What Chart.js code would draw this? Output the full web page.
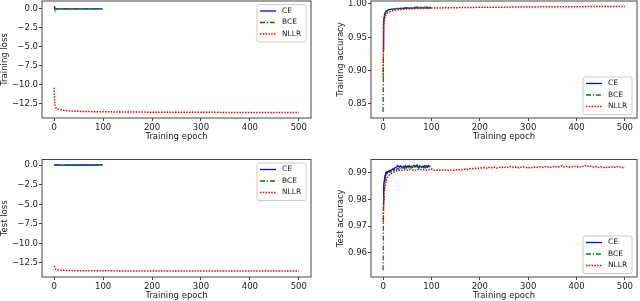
<!DOCTYPE html>
<html>
<head>
<meta charset="utf-8">
<script src="https://cdn.jsdelivr.net/npm/chart.js@4.4.0/dist/chart.umd.min.js"></script>
<style>
html, body { margin: 0; padding: 0; background: #fff; }
#wrap { position: relative; width: 640px; height: 301px; overflow: hidden; }
canvas { position: absolute; }
</style>
</head>
<body>
<div id="wrap">
<canvas id="c1" width="320" height="150" style="left:0;top:0"></canvas>
<canvas id="c2" width="320" height="150" style="left:320px;top:0"></canvas>
<canvas id="c3" width="320" height="151" style="left:0;top:150px"></canvas>
<canvas id="c4" width="320" height="151" style="left:320px;top:150px"></canvas>
</div>
<script>
// ---- data ----
var seriesNames = ['CE', 'BCE', 'NLLR'];
var xTicks = [0, 100, 200, 300, 400, 500];
var yTicksLoss = [0, -2.5, -5, -7.5, -10, -12.5];
var yTicksTrainAcc = [0.85, 0.90, 0.95, 1.00];
var yTicksTestAcc = [0.96, 0.97, 0.98, 0.99];

// epochs for the smooth curves
var epochsCE = [0, 1, 2, 3, 4, 5, 6, 8, 10, 13, 16, 20, 25, 30, 40, 50, 60, 70, 80, 90, 99];
var epochsNLLR = [0, 1, 2, 3, 4, 5, 6, 8, 10, 13, 16, 20, 25, 30, 40, 50, 60, 80, 100, 150, 200, 250, 300, 350, 400, 450, 500];

var trainLossCE = [0.35, 0.09, 0.06, 0.045, 0.037, 0.032, 0.028, 0.023, 0.02, 0.017, 0.015, 0.012, 0.01, 0.009, 0.007, 0.006, 0.005, 0.004, 0.004, 0.003, 0.003];
var trainLossBCE = [0.15, 0.03, 0.02, 0.015, 0.012, 0.01, 0.009, 0.008, 0.007, 0.006, 0.005, 0.004, 0.004, 0.003, 0.003, 0.002, 0.002, 0.002, 0.002, 0.001, 0.001];
var trainLossNLLR = [-10.4, -12.6, -12.9, -13.0, -13.08, -13.13, -13.17, -13.23, -13.27, -13.31, -13.35, -13.39, -13.42, -13.45, -13.49, -13.52, -13.54, -13.56, -13.58, -13.61, -13.63, -13.64, -13.65, -13.66, -13.66, -13.67, -13.67];

var testLossCE = [0.06, 0.05, 0.045, 0.04, 0.038, 0.036, 0.035, 0.034, 0.033, 0.032, 0.032, 0.032, 0.033, 0.033, 0.034, 0.035, 0.036, 0.037, 0.038, 0.039, 0.04];
var testLossBCE = [0.02, 0.015, 0.013, 0.012, 0.011, 0.01, 0.01, 0.009, 0.009, 0.009, 0.009, 0.009, 0.01, 0.01, 0.01, 0.011, 0.011, 0.012, 0.012, 0.013, 0.013];
var testLossNLLR = [-12.85, -13.1, -13.2, -13.27, -13.31, -13.34, -13.36, -13.39, -13.41, -13.43, -13.44, -13.45, -13.46, -13.47, -13.48, -13.49, -13.5, -13.5, -13.51, -13.52, -13.52, -13.53, -13.53, -13.53, -13.54, -13.54, -13.54];

var trainAccCE = [0.930, 0.972, 0.980, 0.984, 0.9865, 0.988, 0.989, 0.990, 0.9908, 0.9915, 0.992, 0.9924, 0.9928, 0.993, 0.9934, 0.9937, 0.9939, 0.9941, 0.9942, 0.9943, 0.9944];
var trainAccBCE = [0.838, 0.968, 0.978, 0.983, 0.9855, 0.987, 0.988, 0.9893, 0.990, 0.991, 0.9918, 0.9925, 0.993, 0.9934, 0.9940, 0.9945, 0.9948, 0.9951, 0.9953, 0.9954, 0.9955];
var trainAccNLLR = [0.890, 0.962, 0.972, 0.977, 0.980, 0.982, 0.9835, 0.9855, 0.987, 0.988, 0.989, 0.990, 0.9908, 0.9914, 0.9921, 0.9926, 0.993, 0.9935, 0.9939, 0.9945, 0.9950, 0.9953, 0.9956, 0.9958, 0.9960, 0.9962, 0.9963];

// epochs for the noisy test accuracy curves
var epochsTestCE = [0, 1, 2, 3, 4, 5, 6, 7, 8, 10, 12, 14, 16, 18, 20, 22, 24, 26, 28, 30, 32, 34, 36, 38, 40, 42, 44, 46,
  48, 50, 52, 54, 56, 58, 60, 62, 64, 66, 68, 70, 72, 74, 76, 78, 80, 82, 84, 86, 88, 90, 92, 94, 96, 98];
var epochsTestNLLR = [0, 1, 2, 3, 4, 5, 6, 8, 10, 12, 15, 18, 21, 24, 27, 30,
  35, 40, 45, 50, 55, 60, 65, 70, 75, 80, 85, 90, 95, 100,
  105, 110, 115, 120, 125, 130, 135, 140, 145, 150, 155, 160, 165, 170, 175, 180, 185, 190, 195, 200,
  205, 210, 215, 220, 225, 230, 235, 240, 245, 250, 255, 260, 265, 270, 275, 280, 285, 290, 295, 300,
  305, 310, 315, 320, 325, 330, 335, 340, 345, 350, 355, 360, 365, 370, 375, 380, 385, 390, 395, 400,
  405, 410, 415, 420, 425, 430, 435, 440, 445, 450, 455, 460, 465, 470, 475, 480, 485, 490, 495, 500];

var testAccCE = [0.9780, 0.9845, 0.9868, 0.9880, 0.9890, 0.9895, 0.9900, 0.9898,
  0.9905, 0.9903, 0.9908, 0.9910, 0.9907, 0.9912, 0.9915, 0.9911, 0.9918, 0.9920,
  0.9922, 0.9928, 0.9925, 0.9921, 0.9926, 0.9923, 0.9919, 0.9924, 0.9922, 0.9926,
  0.9920, 0.9925, 0.9923, 0.9927, 0.9922, 0.9924, 0.9921, 0.9926, 0.9928, 0.9923,
  0.9927, 0.9929, 0.9924, 0.9921, 0.9926, 0.9923, 0.9920, 0.9925, 0.9922, 0.9927,
  0.9924, 0.9926, 0.9921, 0.9927, 0.9925, 0.9923];
var testAccBCE = [0.9535, 0.9780, 0.9830, 0.9855, 0.9870, 0.9880, 0.9888, 0.9893,
  0.9897, 0.9900, 0.9902, 0.9905, 0.9903, 0.9908, 0.9910, 0.9907, 0.9912, 0.9910,
  0.9914, 0.9917, 0.9913, 0.9918, 0.9915, 0.9919, 0.9916, 0.9920, 0.9917, 0.9921,
  0.9918, 0.9922, 0.9919, 0.9916, 0.9921, 0.9918, 0.9923, 0.9920, 0.9917, 0.9922,
  0.9919, 0.9924, 0.9920, 0.9917, 0.9922, 0.9919, 0.9923, 0.9920, 0.9918, 0.9922,
  0.9919, 0.9923, 0.9920, 0.9924, 0.9921, 0.9919];
var testAccNLLR = [0.9715, 0.9780, 0.9815, 0.9838, 0.9852, 0.9862, 0.9870, 0.9880, 0.9886, 0.9891, 0.9895, 0.9899, 0.9902, 0.9904, 0.9907, 0.9908,
  0.9910, 0.9909, 0.9912, 0.9910, 0.9913, 0.9911, 0.9909, 0.9912, 0.9914, 0.9911, 0.9913, 0.9910, 0.9912, 0.9914,
  0.9910, 0.9911, 0.9909, 0.9910, 0.9912, 0.9910, 0.9909, 0.9911, 0.9910, 0.9912, 0.9911, 0.9913, 0.9912, 0.9914, 0.9913, 0.9916, 0.9915, 0.9917, 0.9916, 0.9919,
  0.9918, 0.9920, 0.9917, 0.9921, 0.9919, 0.9922, 0.9918, 0.9921, 0.9920, 0.9923, 0.9919, 0.9922, 0.9924, 0.9920, 0.9922, 0.9919, 0.9921, 0.9923, 0.9920, 0.9918,
  0.9921, 0.9919, 0.9922, 0.9920, 0.9923, 0.9921, 0.9924, 0.9922, 0.9920, 0.9923, 0.9925, 0.9921, 0.9923, 0.9926, 0.9922, 0.9924, 0.9921, 0.9923, 0.9925, 0.9922,
  0.9924, 0.9921, 0.9926, 0.9928, 0.9923, 0.9925, 0.9922, 0.9924, 0.9920, 0.9923, 0.9921, 0.9918, 0.9922, 0.9920, 0.9923, 0.9921, 0.9924, 0.9922, 0.9920, 0.9921];

// ---- styling ----
var font = { family: "'DejaVu Sans', sans-serif", size: 8.5 };
var legendFont = "7.5px 'DejaVu Sans', sans-serif";
var textColor = '#222';
var axisColor = '#444';
var styles = [
  { color: '#0000ff', dash: [], width: 1.3 },
  { color: '#008000', dash: [5, 1.8, 1.3, 1.8], width: 1.3 },
  { color: '#ff0000', dash: [1.5, 1.3], width: 1.5 }
];

function points(xs, ys) {
  return xs.map(function (x, i) { return { x: x, y: ys[i] }; });
}

function fmtLoss(v) { return v.toFixed(1).replace('-', '\u2212'); }
function fmtAcc(v) { return v.toFixed(2); }

// spines drawn on top of the lines
var frameBox = {
  id: 'frameBox',
  afterDatasetsDraw: function (chart) {
    var a = chart.chartArea, ctx = chart.ctx;
    ctx.save();
    ctx.strokeStyle = axisColor;
    ctx.lineWidth = 1;
    ctx.strokeRect(a.left, a.top, a.right - a.left, a.bottom - a.top);
    ctx.restore();
  }
};

// matplotlib-like legend inside the axes
var legendBox = {
  id: 'legendBox',
  afterDraw: function (chart, args, opts) {
    var a = chart.chartArea, ctx = chart.ctx;
    var w = 49, h = 37.5;
    var x = a.right - 5 - w;
    var y = opts.corner === 'top' ? a.top + 3.5 : a.bottom - 3.5 - h;
    ctx.save();
    ctx.beginPath();
    ctx.roundRect(x, y, w, h, 2);
    ctx.fillStyle = 'rgba(255,255,255,0.8)';
    ctx.fill();
    ctx.strokeStyle = '#cccccc';
    ctx.lineWidth = 1;
    ctx.stroke();
    var rows = [6.5, 18, 29.5];
    chart.data.datasets.forEach(function (ds, i) {
      var st = styles[i];
      var ry = y + rows[i];
      ctx.beginPath();
      ctx.setLineDash(st.dash);
      ctx.strokeStyle = st.color;
      ctx.lineWidth = st.width;
      ctx.moveTo(x + 3, ry);
      ctx.lineTo(x + 19, ry);
      ctx.stroke();
      ctx.setLineDash([]);
      ctx.fillStyle = textColor;
      ctx.font = legendFont;
      ctx.textBaseline = 'middle';
      ctx.textAlign = 'left';
      ctx.fillText(ds.label, x + 25, ry);
    });
    ctx.restore();
  }
};

function makeChart(id, p) {
  var cv = document.getElementById(id);
  var H = cv.height, W = cv.width;
  var datasets = p.series.map(function (s, i) {
    return {
      label: seriesNames[i],
      data: points(s[0], s[1]),
      borderColor: styles[i].color,
      borderDash: styles[i].dash,
      borderWidth: styles[i].width,
      pointRadius: 0,
      tension: 0,
      fill: false,
      order: 2 - i
    };
  });
  return new Chart(cv, {
    type: 'line',
    data: { datasets: datasets },
    options: {
      responsive: false,
      animation: false,
      devicePixelRatio: 1,
      layout: { padding: { left: 0, top: p.area.top, right: W - p.area.right, bottom: 0 } },
      plugins: {
        legend: { display: false },
        tooltip: { enabled: false },
        legendBox: { corner: p.corner }
      },
      scales: {
        x: {
          type: 'linear',
          min: -25,
          max: 525,
          afterBuildTicks: function (s) { s.ticks = xTicks.map(function (v) { return { value: v }; }); },
          afterFit: function (s) { s.height = H - p.area.bottom; s.paddingLeft = 0; s.paddingRight = 0; },
          ticks: { font: font, color: textColor, padding: 1.5, autoSkip: false, maxRotation: 0,
            callback: function (v) { return String(v); } },
          grid: { drawOnChartArea: false, drawTicks: true, tickLength: 3, color: axisColor },
          border: { display: false },
          title: { display: true, text: 'Training epoch', font: font, color: textColor,
            padding: { top: 0, bottom: p.xTitlePad } }
        },
        y: {
          type: 'linear',
          min: p.yMin,
          max: p.yMax,
          afterBuildTicks: function (s) { s.ticks = p.yTicks.map(function (v) { return { value: v }; }); },
          afterFit: function (s) { s.width = p.area.left; s.paddingTop = 0; s.paddingBottom = 0; },
          ticks: { font: font, color: textColor, padding: 1, autoSkip: false, callback: p.fmt },
          grid: { drawOnChartArea: false, drawTicks: true, tickLength: 3, color: axisColor },
          border: { display: false },
          title: { display: true, text: p.yLabel, font: font, color: textColor,
            padding: { top: p.yTitlePad, bottom: 0 } }
        }
      }
    },
    plugins: [frameBox, legendBox]
  });
}

makeChart('c1', {
  yLabel: 'Training loss', yMin: -14.4, yMax: 1.05, yTicks: yTicksLoss, fmt: fmtLoss,
  area: { left: 42, right: 311, top: 1, bottom: 118 }, corner: 'top', xTitlePad: 7.9, yTitlePad: 0,
  series: [[epochsCE, trainLossCE], [epochsCE, trainLossBCE], [epochsNLLR, trainLossNLLR]]
});
makeChart('c2', {
  yLabel: 'Training accuracy', yMin: 0.829, yMax: 1.0045, yTicks: yTicksTrainAcc, fmt: fmtAcc,
  area: { left: 51, right: 317, top: 1, bottom: 118 }, corner: 'bottom', xTitlePad: 7.9, yTitlePad: 15.6,
  series: [[epochsCE, trainAccCE], [epochsCE, trainAccBCE], [epochsNLLR, trainAccNLLR]]
});
makeChart('c3', {
  yLabel: 'Test loss', yMin: -14.3, yMax: 0.74, yTicks: yTicksLoss, fmt: fmtLoss,
  area: { left: 42, right: 311, top: 9.5, bottom: 127 }, corner: 'top', xTitlePad: 0.2, yTitlePad: 0,
  series: [[epochsCE, testLossCE], [epochsCE, testLossBCE], [epochsNLLR, testLossNLLR]]
});
makeChart('c4', {
  yLabel: 'Test accuracy', yMin: 0.951, yMax: 0.995, yTicks: yTicksTestAcc, fmt: fmtAcc,
  area: { left: 51, right: 317, top: 9.5, bottom: 127 }, corner: 'bottom', xTitlePad: 0.2, yTitlePad: 15.6,
  series: [[epochsTestCE, testAccCE], [epochsTestCE, testAccBCE], [epochsTestNLLR, testAccNLLR]]
});
</script>
</body>
</html>
